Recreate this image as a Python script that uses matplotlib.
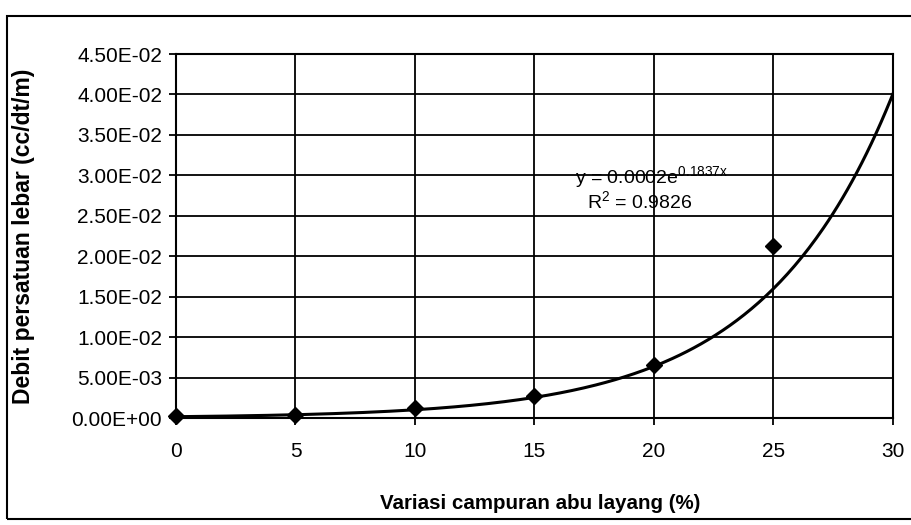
import matplotlib.pyplot as plt
import matplotlib.patches as mpatches
import numpy as np

plt.rcParams['font.family'] = ['Liberation Sans', 'DejaVu Sans']
plt.rcParams['mathtext.fontset'] = 'custom'
plt.rcParams['mathtext.rm'] = 'Liberation Sans'

#----------------- data
fly_ash_pct = [0, 5, 10, 15, 20, 25]
discharge = [0.0002, 0.0004, 0.0012, 0.0027, 0.0065, 0.0213]

# exponential trend y = a * exp(b x)
trend_a = 0.000162
trend_b = 0.1837
trend_r2 = 0.9826

x_ticks = [0, 5, 10, 15, 20, 25, 30]
y_ticks = [0.0, 0.005, 0.010, 0.015, 0.020, 0.025, 0.030, 0.035, 0.040, 0.045]

#----------------- figure
fig = plt.figure(figsize=(9.11, 5.25), dpi=100)
ax = fig.add_axes([0.1932, 0.2038, 0.787, 0.6933])

xs = np.linspace(0, 30, 300)
ax.plot(xs, trend_a * np.exp(trend_b * xs), color='black', lw=2.2, zorder=3)
ax.plot(fly_ash_pct, discharge, linestyle='none', marker='D', ms=8,
        color='black', zorder=4, clip_on=False)

ax.set_xlim(0, 30)
ax.set_ylim(0, 0.045)
ax.set_xticks(x_ticks)
ax.set_yticks(y_ticks)
ax.set_yticklabels([f"{v:.2E}" for v in y_ticks])
ax.grid(True, color='black', lw=1.3)
ax.set_axisbelow(True)
for sp in ax.spines.values():
    sp.set_linewidth(1.5)

ax.tick_params(axis='both', direction='out', length=5, width=1.3,
               labelsize=15, colors='black')
ax.tick_params(axis='x', pad=12)
ax.tick_params(axis='y', pad=5)

ax.set_xlabel("Variasi campuran abu layang (%)", fontsize=14.8, fontweight='bold')
ax.set_ylabel("Debit persatuan lebar (cc/dt/m)", fontsize=16.5, fontweight='bold')
ax.xaxis.set_label_coords(0.508, -0.21)
ax.yaxis.set_label_coords(-0.196, 0.5)

eq_text = f"y = {trend_a:.4f}e$^{{\\mathrm{{{trend_b:.4f}x}}}}$"
ax.text(19.9, 0.0297, eq_text, fontsize=14, ha='center', va='center')
ax.text(19.4, 0.0267, f"R$^{{\\mathrm{{2}}}}$ = {trend_r2:.4f}",
        fontsize=14, ha='center', va='center')

# chart frame
frame = mpatches.Rectangle((7 / 911, 1 - 519 / 525), 1.0, (519 - 16) / 525,
                           transform=fig.transFigure, fill=False,
                           edgecolor='black', lw=1.5, clip_on=False)
fig.patches.append(frame)

fig.savefig('out.png', dpi=100)
